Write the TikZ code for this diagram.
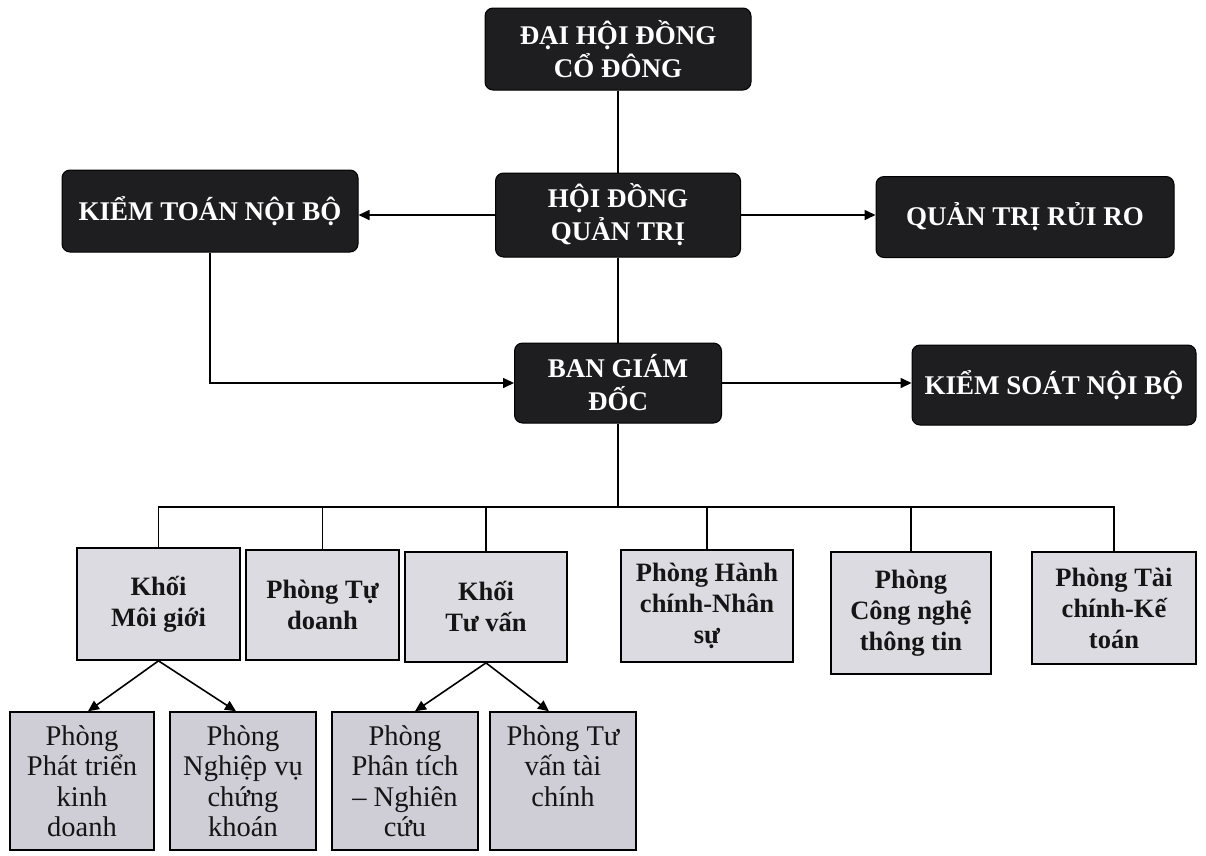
\documentclass[tikz,border=0pt]{standalone}
\usepackage{fontspec}
\setmainfont{Liberation Serif}
\usetikzlibrary{arrows.meta}
\definecolor{topfill}{HTML}{1E1D1F}
\definecolor{midfill}{HTML}{DDDBE2}
\definecolor{lowfill}{HTML}{CFCDD6}
\definecolor{inkc}{HTML}{151515}
\tikzset{
  blackbox/.style={draw=black, line width=1pt, fill=topfill, rounded corners=8pt, inner sep=0pt,
    text=white, align=center, font=\fontsize{27}{33}\selectfont\bfseries},
  midbox/.style={draw=black, line width=1.7pt, fill=midfill, inner sep=0pt,
    text=inkc, align=center, font=\fontsize{26.5}{31}\selectfont\bfseries},
  lowbox/.style={draw=black, line width=1.5pt, fill=lowfill, inner sep=0pt,
    text=inkc, align=center, font=\fontsize{28.5}{30.5}\selectfont},
  link/.style={draw=black, line width=1.6pt},
  arr/.style={link, -{Triangle[length=11pt,width=10pt]}}
}
\begin{document}
\begin{tikzpicture}[x=1pt,y=-1pt]
\useasboundingbox[fill=white] (0,0) rectangle (1206,855);

% top level
\node[blackbox, minimum width=266pt, minimum height=82pt] (dhd) at (618,49) {ĐẠI HỘI ĐỒNG\\CỔ ĐÔNG};
\node[blackbox, minimum width=296pt, minimum height=82pt] (ktnb) at (210,211) {KIỂM TOÁN NỘI BỘ};
\node[blackbox, minimum width=245pt, minimum height=84pt] (hdqt) at (618,215) {HỘI ĐỒNG\\QUẢN TRỊ};
\node[blackbox, minimum width=298pt, minimum height=81pt] (qtrr) at (1025,217) {QUẢN TRỊ RỦI RO};
\node[blackbox, minimum width=207pt, minimum height=80pt] (bgd) at (618,383) {BAN GIÁM\\ĐỐC};
\node[blackbox, minimum width=284pt, minimum height=80pt] (ksnb) at (1054,385) {KIỂM SOÁT NỘI BỘ};

% second row
\node[midbox, minimum width=163pt, minimum height=112pt] (mg) at (158.5,604) {Khối\\Môi giới};
\node[midbox, minimum width=153pt, minimum height=110pt] (td) at (322.5,605) {Phòng Tự\\doanh};
\node[midbox, minimum width=162pt, minimum height=110pt] (tv) at (486,607) {Khối\\Tư vấn};
\node[midbox, minimum width=172pt, minimum height=112pt] (hc) at (707,606) {Phòng Hành\\chính-Nhân\\sự};
\node[midbox, minimum width=160pt, minimum height=122pt] (cn) at (911,613) {Phòng\\Công nghệ\\thông tin};
\node[midbox, minimum width=164pt, minimum height=112pt] (tc) at (1114,608) {Phòng Tài\\chính-Kế\\toán};

% third row
\node[lowbox, minimum width=144pt, minimum height=138pt] (ptkd) at (82,781) {Phòng\\Phát triển\\kinh\\doanh};
\node[lowbox, minimum width=146pt, minimum height=138pt] (nvck) at (243,781) {Phòng\\Nghiệp vụ\\chứng\\khoán};
\node[lowbox, minimum width=146pt, minimum height=138pt] (ptnc) at (405,781) {Phòng\\Phân tích\\– Nghiên\\cứu};
\node[lowbox, minimum width=146pt, minimum height=138pt] (tvtc) at (563,781) {Phòng Tư\\vấn tài\\chính\\\phantom{x}};

% connectors
\coordinate (bus) at (618,507);
\draw[link] (dhd) -- (hdqt);
\draw[link] (hdqt) -- (bgd);
\draw[arr] (hdqt.west) -- (hdqt.west -| ktnb.east);
\draw[arr] (hdqt.east) -- (hdqt.east -| qtrr.west);
\draw[arr] (ktnb.south) |- (bgd.west);
\draw[arr] (bgd.east) -- (bgd.east -| ksnb.west);
\draw[link] (bgd.south) -- (bus);
\draw[link] (mg.north) |- (tc.north |- bus) -- (tc.north);
\draw[link] (td.north) -- (td.north |- bus);
\draw[link] (tv.north) -- (tv.north |- bus);
\draw[link] (hc.north) -- (hc.north |- bus);
\draw[link] (cn.north) -- (cn.north |- bus);

\draw[arr] (mg.south) -- ([xshift=6pt]ptkd.north);
\draw[arr] (mg.south) -- ([xshift=-7pt]nvck.north);
\draw[arr] (tv.south) -- ([xshift=10pt]ptnc.north);
\draw[arr] (tv.south) -- ([xshift=-14pt]tvtc.north);
\end{tikzpicture}
\end{document}
